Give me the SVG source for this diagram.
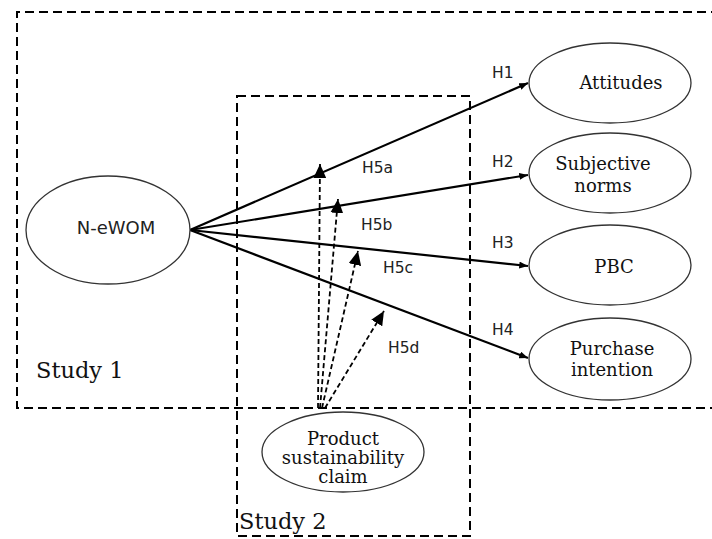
<svg xmlns="http://www.w3.org/2000/svg" width="712" height="539" viewBox="0 0 712 539">
<defs>
<style>
.box{fill:none;stroke:#000;stroke-width:2;stroke-dasharray:9 5}
.node{fill:#fff;stroke:#333;stroke-width:1.3}
.lbl{font-family:"DejaVu Serif",serif;font-size:18px;fill:#111;text-anchor:middle}
.sans{font-family:"DejaVu Sans",sans-serif;fill:#222}
.solid{fill:none;stroke:#000;stroke-width:2.2}
.dash{fill:none;stroke:#000;stroke-width:1.8;stroke-dasharray:5 3}
.study{font-family:"DejaVu Serif",serif;font-size:22.5px;fill:#111}
</style>
<marker id="ah" viewBox="0 0 10 8" refX="10" refY="4" markerWidth="9" markerHeight="7" markerUnits="userSpaceOnUse" orient="auto">
<path d="M0,0 L10,4 L0,8 z" fill="#000"/>
</marker>
<marker id="big" viewBox="0 0 12 11" refX="12" refY="5.5" markerWidth="14" markerHeight="13" markerUnits="userSpaceOnUse" orient="auto">
<path d="M0,0 L12,5.5 L0,11 z" fill="#000"/>
</marker>
</defs>
<rect width="712" height="539" fill="#fff"/>
<g id="study1">
<path class="box" d="M720,12 H17 V408 H720"/>
<text class="study" x="36" y="378">Study 1</text>
</g>
<g id="study2">
<rect class="box" x="237" y="96" width="233" height="440"/>
<text class="study" x="239" y="529">Study 2</text>
</g>
<g id="connectors">
<line class="solid" x1="190" y1="230" x2="528" y2="83" marker-end="url(#ah)"/>
<line class="solid" x1="190" y1="230" x2="528" y2="175" marker-end="url(#ah)"/>
<line class="solid" x1="190" y1="230" x2="528" y2="266" marker-end="url(#ah)"/>
<line class="solid" x1="190" y1="230" x2="528" y2="358" marker-end="url(#ah)"/>
<line class="dash" x1="318" y1="408" x2="320" y2="164" marker-end="url(#big)"/>
<line class="dash" x1="320" y1="408" x2="338" y2="199" marker-end="url(#big)"/>
<line class="dash" x1="322" y1="408" x2="358" y2="251" marker-end="url(#big)"/>
<line class="dash" x1="325" y1="408" x2="384" y2="311" marker-end="url(#big)"/>
<text class="sans" font-size="15.5" x="492" y="78">H1</text>
<text class="sans" font-size="15.5" x="492" y="167">H2</text>
<text class="sans" font-size="15.5" x="492" y="248">H3</text>
<text class="sans" font-size="15.5" x="492" y="335">H4</text>
<text class="sans" font-size="15.5" x="362" y="173">H5a</text>
<text class="sans" font-size="15.5" x="361" y="230">H5b</text>
<text class="sans" font-size="15.5" x="383" y="273">H5c</text>
<text class="sans" font-size="15.5" x="388" y="353">H5d</text>
</g>
<g id="n-ewom">
<ellipse class="node" cx="108" cy="230" rx="82" ry="54"/>
<text class="sans" font-size="18" x="116" y="234" text-anchor="middle">N-eWOM</text>
</g>
<g id="attitudes">
<ellipse class="node" cx="610" cy="83" rx="81" ry="40"/>
<text class="lbl" x="621" y="89">Attitudes</text>
</g>
<g id="subjective-norms">
<ellipse class="node" cx="610" cy="173" rx="81" ry="40"/>
<text class="lbl" x="603" y="170">Subjective</text>
<text class="lbl" x="603" y="192">norms</text>
</g>
<g id="pbc">
<ellipse class="node" cx="610" cy="265" rx="81" ry="40"/>
<text class="lbl" x="614" y="273">PBC</text>
</g>
<g id="purchase-intention">
<ellipse class="node" cx="610" cy="359" rx="81" ry="41"/>
<text class="lbl" x="612" y="355">Purchase</text>
<text class="lbl" x="612" y="376">intention</text>
</g>
<g id="product-claim">
<ellipse class="node" cx="343" cy="452" rx="81" ry="40"/>
<text class="lbl" x="343" y="445">Product</text>
<text class="lbl" x="343" y="464">sustainability</text>
<text class="lbl" x="343" y="483">claim</text>
</g>
</svg>
